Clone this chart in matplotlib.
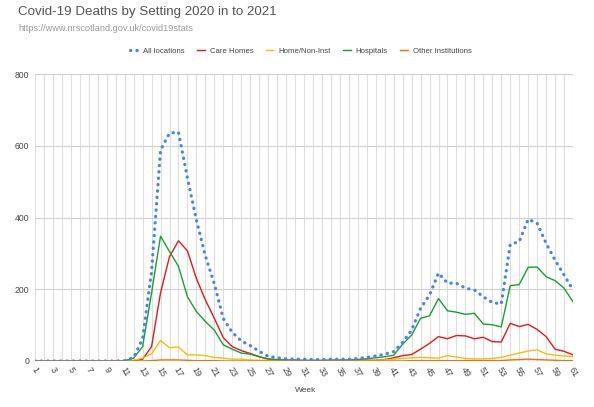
#weekly covid-19 deaths in scotland by place of death, 2020 into 2021
#line chart redrawn in the style of a google sheets chart

import numpy as np
import matplotlib
matplotlib.use('Agg')
import matplotlib.pyplot as plt

weeks = list(range(1, 62))

all_locations = [0, 0, 0, 0, 0, 0, 0, 0, 0, 0,
                 1, 10, 62, 250, 588, 635, 638, 510, 393, 293,
                 215, 118, 80, 56, 43, 27, 13, 9, 6, 5,
                 5, 4, 4, 5, 5, 5, 7, 10, 14, 19,
                 26, 52, 86, 147, 184, 245, 217, 217, 203, 198,
                 179, 163, 159, 325, 333, 395, 384, 328, 281, 240,
                 198]

care_homes = [0, 0, 0, 0, 0, 0, 0, 0, 0, 0,
              0, 1, 5, 40, 190, 291, 335, 307, 230, 170,
              119, 65, 40, 29, 21, 12, 5, 3, 2, 1,
              1, 1, 1, 1, 1, 2, 2, 2, 2, 4,
              9, 15, 18, 33, 49, 68, 62, 71, 70, 62,
              66, 54, 53, 105, 96, 102, 88, 68, 33, 27,
              17]

home_non_inst = [0, 0, 0, 0, 0, 0, 0, 0, 0, 0,
                 0, 2, 8, 20, 57, 37, 39, 17, 17, 15,
                 10, 8, 5, 5, 3, 2, 2, 1, 1, 1,
                 1, 1, 1, 1, 1, 1, 1, 2, 2, 3,
                 5, 7, 9, 10, 9, 8, 15, 11, 7, 6,
                 6, 7, 10, 16, 22, 28, 31, 20, 16, 14,
                 12]

hospitals = [0, 0, 0, 0, 0, 0, 0, 0, 0, 0,
             1, 8, 40, 190, 348, 305, 264, 179, 138, 110,
             86, 45, 33, 22, 19, 12, 6, 4, 3, 3,
             2, 2, 2, 3, 3, 3, 4, 6, 9, 12,
             16, 47, 72, 119, 126, 174, 140, 136, 130, 133,
             103, 101, 95, 210, 213, 261, 262, 235, 224, 203,
             165]

other_inst = [0, 0, 0, 0, 0, 0, 0, 0, 0, 0,
              0, 0, 0, 1, 3, 3, 3, 2, 1, 1,
              1, 0, 0, 0, 0, 0, 0, 0, 0, 0,
              0, 0, 0, 0, 0, 0, 0, 0, 0, 0,
              0, 0, 1, 1, 1, 1, 1, 1, 1, 1,
              1, 1, 1, 3, 4, 5, 4, 3, 2, 1,
              1]

series_names = ['All locations', 'Care Homes', 'Home/Non-Inst', 'Hospitals', 'Other Institutions']
series_colors = ['#4285f4', '#e8171c', '#fbbc04', '#17a032', '#ff6d01']

x_ticks = list(range(1, 62, 2))
y_ticks = [0, 200, 400, 600, 800]


def main():
    plt.rcParams['font.family'] = ['Liberation Sans', 'DejaVu Sans']
    fig = plt.figure(figsize=(5.94, 4.07), dpi=100)
    ax = fig.add_axes([35 / 594, 1 - 361 / 407, 538 / 594, 287 / 407])

    # grid: a light vertical line every week, horizontal every 200
    for w in weeks:
        ax.axvline(w, color='#dedede', lw=0.8, zorder=0)
    for y in y_ticks[1:]:
        ax.axhline(y, color='#d0d0d0', lw=0.8, zorder=0)
    ax.axhline(0, color='#333333', lw=0.8, zorder=1)

    data = [all_locations, care_homes, home_non_inst, hospitals, other_inst]
    for i, (name, vals, col) in enumerate(zip(series_names, data, series_colors)):
        if i == 0:
            ax.plot(weeks, vals, color=col, lw=2.3, linestyle=(0, (0.1, 1.9)),
                    dash_capstyle='round', label=name, zorder=3)
        else:
            ax.plot(weeks, vals, color=col, lw=1.0, label=name, zorder=2)

    ax.set_xlim(1, 61)
    ax.set_ylim(0, 800)
    ax.set_xticks(x_ticks)
    ax.set_xticklabels([str(t) for t in x_ticks], rotation=-60, ha='center', va='top',
                       fontsize=6.5, color='#444444')
    ax.set_yticks(y_ticks)
    ax.set_yticklabels([str(t) for t in y_ticks], fontsize=6.2, color='#444444')
    ax.tick_params(axis='both', length=0)
    ax.tick_params(axis='y', pad=4)
    ax.tick_params(axis='x', pad=3)
    for s in ax.spines.values():
        s.set_visible(False)

    fig.text(18 / 594, 1 - 12 / 407, 'Covid-19 Deaths by Setting 2020 in to 2021',
             fontsize=9.6, color='#555555', va='center')
    fig.text(18 / 594, 1 - 28.5 / 407, 'https://www.nrscotland.gov.uk/covid19stats',
             fontsize=6.6, color='#999999', va='center')
    fig.text(306 / 594, 1 - 390 / 407, 'Week', fontsize=6, color='#444444',
             ha='center', va='center')

    leg = fig.legend(loc='center', bbox_to_anchor=(301 / 594, 1 - 51 / 407), ncol=5,
                     frameon=False, fontsize=5.6, handlelength=1.0, handletextpad=0.65,
                     columnspacing=1.55, borderpad=0)
    for t in leg.get_texts():
        t.set_color('#444444')

    fig.savefig('out.png', dpi=100)


if __name__ == '__main__':
    main()
